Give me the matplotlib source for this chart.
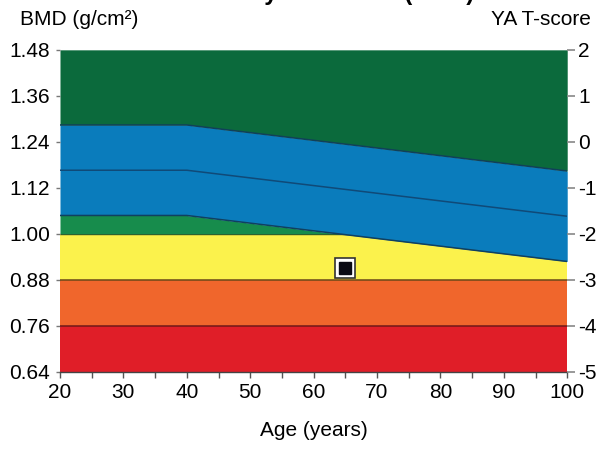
import matplotlib.pyplot as plt
import numpy as np

plt.rcParams['font.family'] = ['Liberation Sans', 'DejaVu Sans']

# reference curves (BMD, g/cm2)
ages = [20, 30, 40, 50, 60, 70, 80, 90, 100]
upper_sd = [1.284, 1.284, 1.284, 1.264, 1.244, 1.224, 1.204, 1.184, 1.164]
mean_bmd = [1.166, 1.166, 1.166, 1.146, 1.126, 1.106, 1.086, 1.066, 1.046]
lower_sd = [1.048, 1.048, 1.048, 1.028, 1.008, 0.988, 0.968, 0.948, 0.928]

# fixed T-score limits
bmd_ticks = [1.48, 1.36, 1.24, 1.12, 1.00, 0.88, 0.76, 0.64]
tscore_ticks = ['2', '1', '0', '-1', '-2', '-3', '-4', '-5']
t_minus2 = 1.00
t_minus3 = 0.88
t_minus4 = 0.76
bmd_min = 0.64
bmd_max = 1.48

# patient
patient_age = [65]
patient_bmd = [0.911]

x_ticks = [20, 30, 40, 50, 60, 70, 80, 90, 100]

fig = plt.figure(figsize=(6.06, 4.53), dpi=100)
ax = fig.add_axes([0.099, 0.179, 0.837, 0.711])

a = np.array(ages)
up = np.array(upper_sd)
lo = np.array(lower_sd)

ax.fill_between(a, bmd_min, t_minus4, color='#e01e28', lw=0, zorder=1)
ax.fill_between(a, t_minus4, t_minus3, color='#f0662c', lw=0, zorder=1)
ax.fill_between(a, t_minus3, t_minus2, color='#fbf24c', lw=0, zorder=1)
ax.hlines(t_minus2, 20, 100, color='#3a4a20', lw=1.0, zorder=1.1)
ax.fill_between(a, t_minus2, lo, where=lo > t_minus2, interpolate=True,
                color='#178c4c', lw=0, zorder=1.2)
ax.fill_between(a, lo, up, color='#0a7cbc', lw=0, zorder=1.3)
ax.fill_between(a, up, bmd_max, color='#0b6a3c', lw=0, zorder=1.3)

ax.plot(a, up, color='#10405a', lw=1.1, zorder=2)
ax.plot(a, mean_bmd, color='#104a78', lw=1.1, zorder=2)
ax.plot(a, lo, color='#104060', lw=1.1, zorder=2)
ax.hlines(t_minus3, 20, 100, color='#6a4818', lw=1.1, zorder=2)
ax.hlines(t_minus4, 20, 100, color='#701818', lw=1.1, zorder=2)

ax.plot(patient_age, patient_bmd, 's', ms=15, mfc='white', mec='#333333',
        mew=1.2, zorder=3)
ax.plot(patient_age, patient_bmd, 's', ms=9, mfc='#0a0a14', mec='#0a0a14',
        zorder=4)

ax.set_xlim(20, 100)
ax.set_ylim(bmd_min, bmd_max)
ax.set_xticks(x_ticks)
ax.set_xticks(np.arange(25, 100, 10), minor=True)
ax.set_yticks(bmd_ticks)
ax.set_yticklabels(['%.2f' % v for v in bmd_ticks])
ax.tick_params(axis='x', which='both', direction='out', length=4, width=1,
               color='#555555', labelsize=15, pad=4)
ax.tick_params(axis='y', direction='out', length=3, width=1,
               color='#777777', labelsize=15, pad=4)

for s in ['top', 'left', 'right']:
    ax.spines[s].set_visible(False)
ax.spines['bottom'].set_color('#444444')
ax.spines['bottom'].set_linewidth(1.0)

ax2 = ax.twinx()
ax2.set_ylim(bmd_min, bmd_max)
ax2.set_yticks(bmd_ticks)
ax2.set_yticklabels(tscore_ticks)
ax2.tick_params(axis='y', direction='out', length=6, width=1.2,
                color='#888888', labelsize=15, pad=2)
for s in ax2.spines.values():
    s.set_visible(False)

ax.set_xlabel('Age (years)', fontsize=15, labelpad=14)
fig.text(0.033, 0.958, 'BMD (g/cm²)', fontsize=15, va='center', ha='left')
fig.text(0.975, 0.958, 'YA T-score', fontsize=15, va='center', ha='right')
# title sits mostly above the top edge, as in the cropped original
fig.text(0.52, 1.0, 'Total Body Reference (BMD)', fontsize=17,
         fontweight='bold', va='baseline', ha='center')

fig.savefig('out.png', dpi=100)
